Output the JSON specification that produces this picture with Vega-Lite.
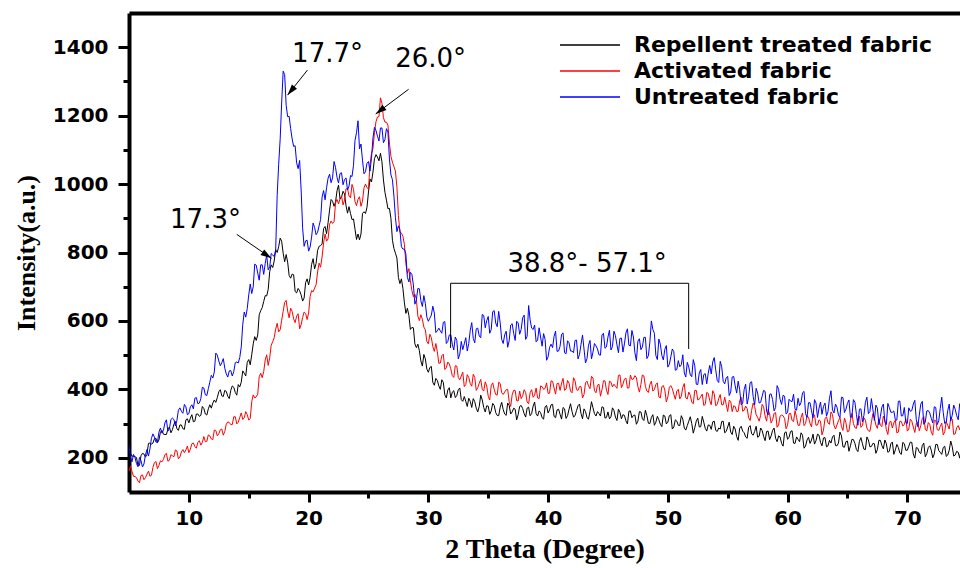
{
"$schema": "https://vega.github.io/schema/vega-lite/v6.json",
"width": 831, "height": 479,
"autosize": {"type": "none"},
"padding": {"left": 129, "top": 13, "right": 0, "bottom": 76},
"background": "white",
"config": {"view": {"stroke": null}, "font": "DejaVu Sans", "axis": {"labelColor": "black", "titleColor": "black", "grid": false}},
"datasets": {
"xrd": [
{"x":5,"R":234,"A":160,"U":235},{"x":5.25,"R":205,"A":160,"U":188},{"x":5.5,"R":203,"A":145,"U":201},{"x":5.75,"R":177,"A":132,"U":174},
{"x":6,"R":206,"A":148,"U":192},{"x":6.25,"R":211,"A":136,"U":182},{"x":6.5,"R":210,"A":152,"U":224},{"x":6.75,"R":243,"A":146,"U":226},
{"x":7,"R":243,"A":172,"U":270},{"x":7.25,"R":257,"A":189,"U":246},{"x":7.5,"R":252,"A":178,"U":275},{"x":7.75,"R":280,"A":188,"U":272},
{"x":8,"R":268,"A":209,"U":302},{"x":8.25,"R":284,"A":190,"U":278},{"x":8.5,"R":273,"A":209,"U":312},{"x":8.75,"R":298,"A":203,"U":312},
{"x":9,"R":285,"A":220,"U":309},{"x":9.25,"R":296,"A":202,"U":346},{"x":9.5,"R":285,"A":224,"U":330},{"x":9.75,"R":311,"A":223,"U":349},
{"x":10,"R":302,"A":215,"U":329},{"x":10.25,"R":326,"A":241,"U":355},{"x":10.5,"R":307,"A":233,"U":374},{"x":10.75,"R":328,"A":245,"U":358},
{"x":11,"R":324,"A":237,"U":373},{"x":11.25,"R":344,"A":262,"U":404},{"x":11.5,"R":325,"A":248,"U":382},{"x":11.75,"R":355,"A":264,"U":421},
{"x":12,"R":360,"A":253,"U":433},{"x":12.25,"R":362,"A":280,"U":506},{"x":12.5,"R":393,"A":270,"U":483},{"x":12.75,"R":381,"A":284,"U":478},
{"x":13,"R":397,"A":277,"U":462},{"x":13.25,"R":380,"A":305,"U":436},{"x":13.5,"R":397,"A":297,"U":455},{"x":13.75,"R":406,"A":320,"U":452},
{"x":14,"R":383,"A":299,"U":480},{"x":14.25,"R":407,"A":318,"U":493},{"x":14.5,"R":454,"A":312,"U":590},{"x":14.75,"R":439,"A":335,"U":611},
{"x":15,"R":487,"A":310,"U":676},{"x":15.25,"R":501,"A":364,"U":680},{"x":15.5,"R":554,"A":375,"U":766},{"x":15.75,"R":559,"A":386,"U":740},
{"x":16,"R":630,"A":447,"U":764},{"x":16.25,"R":657,"A":452,"U":736},{"x":16.5,"R":673,"A":501,"U":792},{"x":16.75,"R":744,"A":492,"U":758},
{"x":17,"R":756,"A":539,"U":793},{"x":17.25,"R":808,"A":576,"U":807},{"x":17.5,"R":817,"A":568,"U":1058},{"x":17.75,"R":833,"A":602,"U":1237},
{"x":18,"R":773,"A":654,"U":1320},{"x":18.25,"R":772,"A":629,"U":1197},{"x":18.5,"R":725,"A":637,"U":1162},{"x":18.75,"R":735,"A":606,"U":1110},
{"x":19,"R":682,"A":614,"U":1062},{"x":19.25,"R":688,"A":577,"U":1069},{"x":19.5,"R":658,"A":610,"U":872},{"x":19.75,"R":712,"A":622,"U":834},
{"x":20,"R":705,"A":623,"U":804},{"x":20.25,"R":765,"A":689,"U":845},{"x":20.5,"R":752,"A":696,"U":873},{"x":20.75,"R":806,"A":743,"U":859},
{"x":21,"R":820,"A":757,"U":896},{"x":21.25,"R":870,"A":828,"U":981},{"x":21.5,"R":855,"A":833,"U":989},{"x":21.75,"R":924,"A":882,"U":1029},
{"x":22,"R":950,"A":885,"U":1018},{"x":22.25,"R":948,"A":945,"U":1048},{"x":22.5,"R":997,"A":942,"U":1003},{"x":22.75,"R":962,"A":965,"U":1033},
{"x":23,"R":971,"A":953,"U":1013},{"x":23.25,"R":915,"A":987,"U":983},{"x":23.5,"R":914,"A":960,"U":1025},{"x":23.75,"R":898,"A":985,"U":1055},
{"x":24,"R":838,"A":937,"U":1150},{"x":24.25,"R":837,"A":963,"U":1103},{"x":24.5,"R":914,"A":950,"U":1070},{"x":24.75,"R":914,"A":1000,"U":1036},
{"x":25,"R":977,"A":985,"U":1066},{"x":25.25,"R":1006,"A":1089,"U":1075},{"x":25.5,"R":1074,"A":1150,"U":1166},{"x":25.75,"R":1079,"A":1196,"U":1140},
{"x":26,"R":1090,"A":1252,"U":1164},{"x":26.25,"R":1012,"A":1194,"U":1121},{"x":26.5,"R":953,"A":1181,"U":1162},{"x":26.75,"R":929,"A":1120,"U":1073},
{"x":27,"R":836,"A":1064,"U":1013},{"x":27.25,"R":798,"A":1038,"U":902},{"x":27.5,"R":727,"A":908,"U":878},{"x":27.75,"R":723,"A":857,"U":817},
{"x":28,"R":653,"A":824,"U":810},{"x":28.25,"R":637,"A":739,"U":727},{"x":28.5,"R":575,"A":717,"U":742},{"x":28.75,"R":580,"A":671,"U":705},
{"x":29,"R":522,"A":664,"U":662},{"x":29.25,"R":513,"A":601,"U":694},{"x":29.5,"R":468,"A":605,"U":642},{"x":29.75,"R":489,"A":574,"U":651},
{"x":30,"R":450,"A":533,"U":599},{"x":30.25,"R":467,"A":551,"U":617},{"x":30.5,"R":412,"A":511,"U":623},{"x":30.75,"R":426,"A":510,"U":571},
{"x":31,"R":400,"A":477,"U":571},{"x":31.25,"R":420,"A":503,"U":596},{"x":31.5,"R":375,"A":463,"U":534},{"x":31.75,"R":405,"A":474,"U":559},
{"x":32,"R":392,"A":440,"U":532},{"x":32.25,"R":376,"A":469,"U":553},{"x":32.5,"R":399,"A":435,"U":489},{"x":32.75,"R":370,"A":439,"U":540},
{"x":33,"R":379,"A":408,"U":533},{"x":33.25,"R":350,"A":443,"U":512},{"x":33.5,"R":365,"A":417,"U":573},{"x":33.75,"R":373,"A":444,"U":549},
{"x":34,"R":345,"A":397,"U":577},{"x":34.25,"R":350,"A":418,"U":556},{"x":34.5,"R":369,"A":400,"U":619},{"x":34.75,"R":334,"A":422,"U":580},
{"x":35,"R":351,"A":380,"U":613},{"x":35.25,"R":337,"A":411,"U":575},{"x":35.5,"R":353,"A":400,"U":630},{"x":35.75,"R":324,"A":383,"U":583},
{"x":36,"R":348,"A":417,"U":594},{"x":36.25,"R":341,"A":385,"U":534},{"x":36.5,"R":324,"A":399,"U":570},{"x":36.75,"R":353,"A":364,"U":542},
{"x":37,"R":334,"A":384,"U":592},{"x":37.25,"R":342,"A":397,"U":543},{"x":37.5,"R":326,"A":366,"U":594},{"x":37.75,"R":353,"A":373,"U":575},
{"x":38,"R":329,"A":399,"U":617},{"x":38.25,"R":345,"A":363,"U":555},{"x":38.5,"R":323,"A":390,"U":603},{"x":38.75,"R":351,"A":377,"U":575},
{"x":39,"R":329,"A":404,"U":539},{"x":39.25,"R":337,"A":373,"U":580},{"x":39.5,"R":317,"A":408,"U":526},{"x":39.75,"R":349,"A":403,"U":546},
{"x":40,"R":331,"A":388,"U":495},{"x":40.25,"R":355,"A":425,"U":532},{"x":40.5,"R":321,"A":404,"U":555},{"x":40.75,"R":340,"A":417,"U":511},
{"x":41,"R":327,"A":397,"U":526},{"x":41.25,"R":347,"A":432,"U":565},{"x":41.5,"R":315,"A":401,"U":504},{"x":41.75,"R":342,"A":418,"U":536},
{"x":42,"R":335,"A":390,"U":512},{"x":42.25,"R":323,"A":425,"U":543},{"x":42.5,"R":352,"A":397,"U":489},{"x":42.75,"R":329,"A":408,"U":532},
{"x":43,"R":343,"A":385,"U":518},{"x":43.25,"R":317,"A":424,"U":490},{"x":43.5,"R":336,"A":402,"U":543},{"x":43.75,"R":346,"A":433,"U":509},
{"x":44,"R":322,"A":390,"U":527},{"x":44.25,"R":329,"A":415,"U":501},{"x":44.5,"R":349,"A":399,"U":559},{"x":44.75,"R":316,"A":425,"U":520},
{"x":45,"R":334,"A":385,"U":553},{"x":45.25,"R":320,"A":421,"U":515},{"x":45.5,"R":338,"A":415,"U":570},{"x":45.75,"R":309,"A":403,"U":530},
{"x":46,"R":333,"A":442,"U":549},{"x":46.25,"R":326,"A":415,"U":509},{"x":46.5,"R":308,"A":433,"U":565},{"x":46.75,"R":336,"A":404,"U":529},
{"x":47,"R":317,"A":429,"U":572},{"x":47.25,"R":325,"A":440,"U":507},{"x":47.5,"R":307,"A":408,"U":541},{"x":47.75,"R":334,"A":414,"U":516},
{"x":48,"R":309,"A":439,"U":552},{"x":48.25,"R":323,"A":395,"U":490},{"x":48.5,"R":300,"A":414,"U":538},{"x":48.75,"R":326,"A":395,"U":575},
{"x":49,"R":304,"A":414,"U":499},{"x":49.25,"R":311,"A":378,"U":547},{"x":49.5,"R":291,"A":408,"U":499},{"x":49.75,"R":322,"A":398,"U":517},
{"x":50,"R":304,"A":378,"U":465},{"x":50.25,"R":326,"A":411,"U":495},{"x":50.5,"R":290,"A":386,"U":510},{"x":50.75,"R":307,"A":395,"U":458},
{"x":51,"R":294,"A":372,"U":466},{"x":51.25,"R":313,"A":406,"U":501},{"x":51.5,"R":281,"A":375,"U":436},{"x":51.75,"R":307,"A":392,"U":465},
{"x":52,"R":300,"A":363,"U":437},{"x":52.25,"R":288,"A":397,"U":469},{"x":52.5,"R":316,"A":369,"U":414},{"x":52.75,"R":291,"A":379,"U":458},
{"x":53,"R":304,"A":353,"U":443},{"x":53.25,"R":278,"A":391,"U":416},{"x":53.5,"R":295,"A":367,"U":470},{"x":53.75,"R":305,"A":396,"U":480},
{"x":54,"R":280,"A":352,"U":457},{"x":54.25,"R":287,"A":373,"U":420},{"x":54.5,"R":306,"A":355,"U":466},{"x":54.75,"R":273,"A":377,"U":416},
{"x":55,"R":290,"A":335,"U":438},{"x":55.25,"R":275,"A":365,"U":392},{"x":55.5,"R":292,"A":352,"U":438},{"x":55.75,"R":262,"A":335,"U":389},
{"x":56,"R":286,"A":367,"U":399},{"x":56.25,"R":278,"A":336,"U":359},{"x":56.5,"R":261,"A":351,"U":415},{"x":56.75,"R":289,"A":317,"U":379},
{"x":57,"R":270,"A":339,"U":422},{"x":57.25,"R":277,"A":350,"U":355},{"x":57.5,"R":260,"A":318,"U":389},{"x":57.75,"R":287,"A":324,"U":362},
{"x":58,"R":262,"A":349,"U":397},{"x":58.25,"R":277,"A":307,"U":336},{"x":58.5,"R":253,"A":328,"U":385},{"x":58.75,"R":280,"A":311,"U":370},
{"x":59,"R":257,"A":332,"U":347},{"x":59.25,"R":264,"A":296,"U":400},{"x":59.5,"R":242,"A":325,"U":356},{"x":59.75,"R":273,"A":315,"U":380},
{"x":60,"R":254,"A":295,"U":332},{"x":60.25,"R":277,"A":330,"U":366},{"x":60.5,"R":243,"A":306,"U":386},{"x":60.75,"R":261,"A":318,"U":339},
{"x":61,"R":247,"A":295,"U":352},{"x":61.25,"R":266,"A":331,"U":390},{"x":61.5,"R":234,"A":300,"U":329},{"x":61.75,"R":260,"A":318,"U":361},
{"x":62,"R":252,"A":290,"U":337},{"x":62.25,"R":240,"A":325,"U":370},{"x":62.5,"R":269,"A":296,"U":318},{"x":62.75,"R":245,"A":307,"U":363},
{"x":63,"R":258,"A":281,"U":350},{"x":63.25,"R":232,"A":320,"U":322},{"x":63.5,"R":251,"A":298,"U":374},{"x":63.75,"R":261,"A":327,"U":340},
{"x":64,"R":236,"A":284,"U":357},{"x":64.25,"R":243,"A":308,"U":325},{"x":64.5,"R":264,"A":291,"U":377},{"x":64.75,"R":231,"A":316,"U":332},
{"x":65,"R":249,"A":276,"U":359},{"x":65.25,"R":235,"A":310,"U":318},{"x":65.5,"R":253,"A":300,"U":370},{"x":65.75,"R":224,"A":286,"U":327},
{"x":66,"R":248,"A":322,"U":342},{"x":66.25,"R":241,"A":294,"U":305},{"x":66.5,"R":224,"A":310,"U":362},{"x":66.75,"R":252,"A":279,"U":329},
{"x":67,"R":233,"A":303,"U":373},{"x":67.25,"R":241,"A":317,"U":309},{"x":67.5,"R":224,"A":286,"U":345},{"x":67.75,"R":251,"A":295,"U":320},
{"x":68,"R":226,"A":322,"U":357},{"x":68.25,"R":241,"A":282,"U":297},{"x":68.5,"R":219,"A":304,"U":347},{"x":68.75,"R":246,"A":287,"U":333},
{"x":69,"R":223,"A":310,"U":311},{"x":69.25,"R":230,"A":275,"U":365},{"x":69.5,"R":210,"A":306,"U":322},{"x":69.75,"R":241,"A":297,"U":347},
{"x":70,"R":222,"A":278,"U":300},{"x":70.25,"R":246,"A":313,"U":336},{"x":70.5,"R":211,"A":290,"U":357},{"x":70.75,"R":230,"A":301,"U":311},
{"x":71,"R":216,"A":279,"U":325},{"x":71.25,"R":236,"A":315,"U":365},{"x":71.5,"R":203,"A":284,"U":304},{"x":71.75,"R":230,"A":303,"U":338},
{"x":72,"R":222,"A":275,"U":315},{"x":72.25,"R":211,"A":310,"U":349},{"x":72.5,"R":239,"A":282,"U":297},{"x":72.75,"R":216,"A":292,"U":344},
{"x":73,"R":230,"A":267,"U":332},{"x":73.25,"R":204,"A":306,"U":304},{"x":73.5,"R":222,"A":284,"U":357},{"x":73.75,"R":233,"A":313,"U":324},
{"x":74,"R":208,"A":270,"U":342},{"x":74.25,"R":216,"A":294,"U":311},{"x":74.5,"R":228,"A":300,"U":345},
{"x":5.125,"R":213,"A":176,"U":201},{"x":5.375,"R":204,"A":146,"U":210},{"x":5.625,"R":201,"A":142,"U":183},{"x":5.875,"R":178,"A":127,"U":201},
{"x":6.125,"R":213,"A":150,"U":173},{"x":6.375,"R":202,"A":142,"U":209},{"x":6.625,"R":242,"A":161,"U":205},{"x":6.875,"R":240,"A":149,"U":257},
{"x":7.125,"R":256,"A":186,"U":260},{"x":7.375,"R":244,"A":168,"U":245},{"x":7.625,"R":275,"A":191,"U":287},{"x":7.875,"R":269,"A":195,"U":280},
{"x":8.125,"R":268,"A":213,"U":311},{"x":8.375,"R":290,"A":193,"U":285},{"x":8.625,"R":282,"A":206,"U":316},{"x":8.875,"R":306,"A":223,"U":293},
{"x":9.125,"R":280,"A":197,"U":339},{"x":9.375,"R":296,"A":217,"U":336},{"x":9.625,"R":283,"A":215,"U":356},{"x":9.875,"R":314,"A":234,"U":326},
{"x":10.125,"R":316,"A":225,"U":349},{"x":10.375,"R":305,"A":243,"U":343},{"x":10.625,"R":328,"A":228,"U":376},{"x":10.875,"R":321,"A":250,"U":360},
{"x":11.125,"R":350,"A":245,"U":406},{"x":11.375,"R":328,"A":247,"U":384},{"x":11.625,"R":343,"A":267,"U":402},{"x":11.875,"R":345,"A":255,"U":441},
{"x":12.125,"R":369,"A":281,"U":451},{"x":12.375,"R":376,"A":264,"U":500},{"x":12.625,"R":399,"A":282,"U":469},{"x":12.875,"R":379,"A":266,"U":490},
{"x":13.125,"R":394,"A":298,"U":445},{"x":13.375,"R":373,"A":303,"U":454},{"x":13.625,"R":410,"A":297,"U":439},{"x":13.875,"R":391,"A":320,"U":478},
{"x":14.125,"R":414,"A":304,"U":477},{"x":14.375,"R":421,"A":331,"U":524},{"x":14.625,"R":447,"A":317,"U":626},{"x":14.875,"R":479,"A":326,"U":636},
{"x":15.125,"R":472,"A":315,"U":708},{"x":15.375,"R":533,"A":384,"U":700},{"x":15.625,"R":543,"A":378,"U":763},{"x":15.875,"R":618,"A":437,"U":719},
{"x":16.125,"R":639,"A":434,"U":764},{"x":16.375,"R":674,"A":486,"U":768},{"x":16.625,"R":692,"A":470,"U":749},{"x":16.875,"R":764,"A":529,"U":797},
{"x":17.125,"R":775,"A":551,"U":788},{"x":17.375,"R":800,"A":593,"U":967},{"x":17.625,"R":842,"A":574,"U":1132},{"x":17.875,"R":798,"A":628,"U":1330},
{"x":18.125,"R":794,"A":660,"U":1230},{"x":18.375,"R":733,"A":609,"U":1198},{"x":18.625,"R":737,"A":628,"U":1132},{"x":18.875,"R":686,"A":595,"U":1112},
{"x":19.125,"R":695,"A":621,"U":1045},{"x":19.375,"R":676,"A":589,"U":983},{"x":19.625,"R":667,"A":626,"U":818},{"x":19.875,"R":723,"A":604,"U":836},
{"x":20.125,"R":727,"A":671,"U":816},{"x":20.375,"R":782,"A":685,"U":886},{"x":20.625,"R":768,"A":706,"U":852},{"x":20.875,"R":818,"A":769,"U":878},
{"x":21.125,"R":825,"A":787,"U":962},{"x":21.375,"R":876,"A":854,"U":954},{"x":21.625,"R":887,"A":840,"U":1017},{"x":21.875,"R":955,"A":892,"U":1004},
{"x":22.125,"R":935,"A":890,"U":1066},{"x":22.375,"R":981,"A":955,"U":1019},{"x":22.625,"R":956,"A":957,"U":1031},{"x":22.875,"R":979,"A":939,"U":998},
{"x":23.125,"R":937,"A":986,"U":1018},{"x":23.375,"R":934,"A":965,"U":994},{"x":23.625,"R":896,"A":999,"U":1022},{"x":23.875,"R":868,"A":949,"U":1128},
{"x":24.125,"R":854,"A":955,"U":1185},{"x":24.375,"R":854,"A":935,"U":1117},{"x":24.625,"R":919,"A":989,"U":1030},{"x":24.875,"R":932,"A":990,"U":1061},
{"x":25.125,"R":1015,"A":1057,"U":1038},{"x":25.375,"R":1035,"A":1104,"U":1135},{"x":25.625,"R":1086,"A":1182,"U":1157},{"x":25.875,"R":1068,"A":1197,"U":1126},
{"x":26.125,"R":1065,"A":1236,"U":1164},{"x":26.375,"R":976,"A":1181,"U":1130},{"x":26.625,"R":928,"A":1172,"U":1152},{"x":26.875,"R":900,"A":1081,"U":1027},
{"x":27.125,"R":812,"A":1051,"U":965},{"x":27.375,"R":784,"A":991,"U":861},{"x":27.625,"R":709,"A":859,"U":866},{"x":27.875,"R":695,"A":847,"U":810},
{"x":28.125,"R":622,"A":767,"U":795},{"x":28.375,"R":616,"A":753,"U":714},{"x":28.625,"R":581,"A":689,"U":736},{"x":28.875,"R":533,"A":678,"U":649},
{"x":29.125,"R":532,"A":614,"U":695},{"x":29.375,"R":483,"A":618,"U":659},{"x":29.625,"R":502,"A":582,"U":674},{"x":29.875,"R":459,"A":540,"U":611},
{"x":30.125,"R":464,"A":561,"U":608},{"x":30.375,"R":420,"A":525,"U":643},{"x":30.625,"R":432,"A":534,"U":566},{"x":30.875,"R":410,"A":476,"U":579},
{"x":31.125,"R":428,"A":498,"U":564},{"x":31.375,"R":384,"A":458,"U":598},{"x":31.625,"R":398,"A":480,"U":540},{"x":31.875,"R":375,"A":460,"U":559},
{"x":32.125,"R":396,"A":435,"U":515},{"x":32.375,"R":382,"A":468,"U":543},{"x":32.625,"R":404,"A":428,"U":503},{"x":32.875,"R":365,"A":450,"U":516},
{"x":33.125,"R":365,"A":414,"U":551},{"x":33.375,"R":374,"A":435,"U":534},{"x":33.625,"R":347,"A":409,"U":595},{"x":33.875,"R":364,"A":435,"U":536},
{"x":34.125,"R":334,"A":405,"U":579},{"x":34.375,"R":383,"A":429,"U":551},{"x":34.625,"R":347,"A":395,"U":616},{"x":34.875,"R":352,"A":410,"U":601},
{"x":35.125,"R":327,"A":369,"U":564},{"x":35.375,"R":359,"A":419,"U":627},{"x":35.625,"R":332,"A":385,"U":594},{"x":35.875,"R":323,"A":421,"U":628},
{"x":36.125,"R":362,"A":390,"U":546},{"x":36.375,"R":328,"A":392,"U":559},{"x":36.625,"R":360,"A":400,"U":523},{"x":36.875,"R":328,"A":350,"U":588},
{"x":37.125,"R":345,"A":397,"U":564},{"x":37.375,"R":311,"A":367,"U":599},{"x":37.625,"R":350,"A":395,"U":561},{"x":37.875,"R":344,"A":381,"U":609},
{"x":38.125,"R":319,"A":391,"U":546},{"x":38.375,"R":348,"A":358,"U":645},{"x":38.625,"R":329,"A":399,"U":579},{"x":38.875,"R":363,"A":383,"U":588},
{"x":39.125,"R":322,"A":375,"U":544},{"x":39.375,"R":332,"A":410,"U":553},{"x":39.625,"R":313,"A":400,"U":563},{"x":39.875,"R":353,"A":419,"U":485},
{"x":40.125,"R":340,"A":389,"U":523},{"x":40.375,"R":356,"A":423,"U":522},{"x":40.625,"R":317,"A":386,"U":570},{"x":40.875,"R":342,"A":418,"U":512},
{"x":41.125,"R":313,"A":418,"U":561},{"x":41.375,"R":343,"A":397,"U":507},{"x":41.625,"R":323,"A":426,"U":542},{"x":41.875,"R":358,"A":395,"U":512},
{"x":42.125,"R":319,"A":434,"U":507},{"x":42.375,"R":338,"A":399,"U":544},{"x":42.625,"R":357,"A":408,"U":502},{"x":42.875,"R":314,"A":375,"U":559},
{"x":43.125,"R":335,"A":419,"U":477},{"x":43.375,"R":313,"A":410,"U":529},{"x":43.625,"R":364,"A":438,"U":489},{"x":43.875,"R":329,"A":396,"U":534},
{"x":44.125,"R":335,"A":412,"U":518},{"x":44.375,"R":322,"A":380,"U":500},{"x":44.625,"R":347,"A":425,"U":564},{"x":44.875,"R":318,"A":398,"U":524},
{"x":45.125,"R":314,"A":424,"U":573},{"x":45.375,"R":346,"A":407,"U":525},{"x":45.625,"R":319,"A":409,"U":557},{"x":45.875,"R":342,"A":441,"U":507},
{"x":46.125,"R":314,"A":405,"U":550},{"x":46.375,"R":324,"A":430,"U":533},{"x":46.625,"R":299,"A":404,"U":577},{"x":46.875,"R":337,"A":442,"U":527},
{"x":47.125,"R":324,"A":430,"U":553},{"x":47.375,"R":298,"A":434,"U":484},{"x":47.625,"R":335,"A":392,"U":548},{"x":47.875,"R":314,"A":442,"U":524},
{"x":48.125,"R":339,"A":409,"U":552},{"x":48.375,"R":301,"A":391,"U":498},{"x":48.625,"R":318,"A":424,"U":600},{"x":48.875,"R":295,"A":399,"U":564},
{"x":49.125,"R":321,"A":419,"U":487},{"x":49.375,"R":298,"A":375,"U":532},{"x":49.625,"R":325,"A":411,"U":486},{"x":49.875,"R":299,"A":363,"U":528},
{"x":50.125,"R":323,"A":406,"U":473},{"x":50.375,"R":284,"A":402,"U":518},{"x":50.625,"R":311,"A":371,"U":456},{"x":50.875,"R":295,"A":400,"U":484},
{"x":51.125,"R":323,"A":380,"U":472},{"x":51.375,"R":287,"A":417,"U":448},{"x":51.625,"R":294,"A":372,"U":479},{"x":51.875,"R":320,"A":383,"U":442},
{"x":52.125,"R":272,"A":358,"U":487},{"x":52.375,"R":307,"A":397,"U":415},{"x":52.625,"R":290,"A":371,"U":448},{"x":52.875,"R":321,"A":386,"U":414},
{"x":53.125,"R":286,"A":356,"U":446},{"x":53.375,"R":296,"A":388,"U":447},{"x":53.625,"R":283,"A":355,"U":445},{"x":53.875,"R":307,"A":387,"U":493},
{"x":54.125,"R":277,"A":356,"U":426},{"x":54.375,"R":284,"A":385,"U":482},{"x":54.625,"R":307,"A":355,"U":423},{"x":54.875,"R":277,"A":356,"U":434},
{"x":55.125,"R":304,"A":368,"U":382},{"x":55.375,"R":268,"A":335,"U":436},{"x":55.625,"R":284,"A":350,"U":410},{"x":55.875,"R":251,"A":336,"U":424},
{"x":56.125,"R":292,"A":377,"U":355},{"x":56.375,"R":273,"A":339,"U":400},{"x":56.625,"R":257,"A":344,"U":357},{"x":56.875,"R":294,"A":309,"U":420},
{"x":57.125,"R":266,"A":360,"U":379},{"x":57.375,"R":292,"A":326,"U":403},{"x":57.625,"R":263,"A":307,"U":360},{"x":57.875,"R":280,"A":356,"U":380},
{"x":58.125,"R":250,"A":322,"U":394},{"x":58.375,"R":278,"A":341,"U":325},{"x":58.625,"R":264,"A":302,"U":387},{"x":58.875,"R":287,"A":330,"U":337},
{"x":59.125,"R":247,"A":289,"U":411},{"x":59.375,"R":261,"A":322,"U":371},{"x":59.625,"R":234,"A":323,"U":383},{"x":59.875,"R":276,"A":285,"U":328},
{"x":60.125,"R":260,"A":329,"U":371},{"x":60.375,"R":279,"A":309,"U":364},{"x":60.625,"R":242,"A":338,"U":342},{"x":60.875,"R":254,"A":295,"U":374},
{"x":61.125,"R":273,"A":318,"U":362},{"x":61.375,"R":228,"A":294,"U":394},{"x":61.625,"R":252,"A":323,"U":318},{"x":61.875,"R":242,"A":301,"U":361},
{"x":62.125,"R":269,"A":328,"U":317},{"x":62.375,"R":250,"A":295,"U":360},{"x":62.625,"R":266,"A":311,"U":345},{"x":62.875,"R":235,"A":267,"U":327},
{"x":63.125,"R":259,"A":314,"U":360},{"x":63.375,"R":235,"A":302,"U":335},{"x":63.625,"R":243,"A":334,"U":396},{"x":63.875,"R":266,"A":295,"U":331},
{"x":64.125,"R":235,"A":296,"U":348},{"x":64.375,"R":275,"A":318,"U":318},{"x":64.625,"R":232,"A":280,"U":376},{"x":64.875,"R":247,"A":302,"U":342},
{"x":65.125,"R":219,"A":278,"U":369},{"x":65.375,"R":254,"A":330,"U":320},{"x":65.625,"R":242,"A":288,"U":362},{"x":65.875,"R":218,"A":314,"U":295},
{"x":66.125,"R":259,"A":289,"U":343},{"x":66.375,"R":225,"A":317,"U":324},{"x":66.625,"R":261,"A":287,"U":377},{"x":66.875,"R":232,"A":277,"U":335},
{"x":67.125,"R":242,"A":329,"U":341},{"x":67.375,"R":213,"A":296,"U":354},{"x":67.625,"R":251,"A":314,"U":297},{"x":67.875,"R":236,"A":291,"U":348},
{"x":68.125,"R":252,"A":310,"U":305},{"x":68.375,"R":216,"A":268,"U":359},{"x":68.625,"R":241,"A":307,"U":333},{"x":68.875,"R":210,"A":302,"U":337},
{"x":69.125,"R":239,"A":273,"U":310},{"x":69.375,"R":214,"A":307,"U":366},{"x":69.625,"R":245,"A":293,"U":323},{"x":69.875,"R":222,"A":314,"U":303},
{"x":70.125,"R":234,"A":284,"U":346},{"x":70.375,"R":245,"A":307,"U":338},{"x":70.625,"R":199,"A":274,"U":368},{"x":70.875,"R":228,"A":304,"U":291},
{"x":71.125,"R":212,"A":294,"U":357},{"x":71.375,"R":243,"A":320,"U":298},{"x":71.625,"R":212,"A":278,"U":337},{"x":71.875,"R":235,"A":298,"U":331},
{"x":72.125,"R":200,"A":266,"U":302},{"x":72.375,"R":239,"A":309,"U":347},{"x":72.625,"R":221,"A":280,"U":308},{"x":72.875,"R":210,"A":301,"U":377},
{"x":73.125,"R":234,"A":276,"U":300},{"x":73.375,"R":208,"A":295,"U":338},{"x":73.625,"R":249,"A":317,"U":308},{"x":73.875,"R":205,"A":268,"U":354},
{"x":74.125,"R":219,"A":288,"U":323},{"x":74.375,"R":199,"A":282,"U":358}
],
"notes": [
{"label":"17.7°","x":21.58,"y":1379},
{"label":"26.0°","x":30.19,"y":1365},
{"label":"17.3°","x":11.39,"y":894},
{"label":"38.8°- 57.1°","x":43.26,"y":766}
],
"arrows": [
{"id":"a","x":19.9,"y":1333,"x2":18.24,"y2":1260},
{"id":"b","x":28.35,"y":1277,"x2":25.6,"y2":1205},
{"id":"c","x":14.0,"y":853,"x2":16.9,"y2":783}
],
"bracket": [
{"x":31.86,"y":710,"x2":51.74,"y2":710},
{"x":31.86,"y":710,"x2":31.86,"y2":521},
{"x":51.74,"y":710,"x2":51.74,"y2":518}
]
},
"layer": [
{
"data": {"name": "xrd"},
"transform": [{"fold": ["R", "A", "U"], "as": ["s", "I"]}],
"mark": {"type": "line", "strokeWidth": 1, "clip": true},
"encoding": {
"x": {"field": "x", "type": "quantitative", "scale": {"domain": [5, 74.4], "nice": false, "zero": false},
"axis": {"orient": "bottom", "values": [10,20,30,40,50,60,70], "title": "2 Theta (Degree)", "titleFont": "Liberation Serif", "titleFontSize": 28, "titleFontWeight": "bold", "titlePadding": 7,
"labelFont": "DejaVu Sans", "labelFontSize": 20, "labelFontWeight": "bold", "labelPadding": 6, "labelFlush": false,
"domainColor": "black", "domainWidth": 4, "tickColor": "black", "tickWidth": 3, "tickSize": 10}},
"y": {"field": "I", "type": "quantitative", "scale": {"domain": [100, 1500], "nice": false, "zero": false},
"axis": {"orient": "left", "values": [200,400,600,800,1000,1200,1400], "format": "d", "title": "Intensity(a.u.)", "titleFont": "Liberation Serif", "titleFontSize": 26, "titleFontWeight": "bold", "titlePadding": 13,
"labelFont": "DejaVu Sans", "labelFontSize": 20, "labelFontWeight": "bold", "labelPadding": 10, "labelFlush": false,
"domainColor": "black", "domainWidth": 4, "tickColor": "black", "tickWidth": 3, "tickSize": 11}},
"color": {"field": "s", "type": "nominal", "scale": {"domain": ["R", "A", "U"], "range": ["#000000", "#ff0000", "#0000ff"]},
"legend": {"orient": "none", "legendX": 450, "legendY": 21, "title": null, "symbolType": "M-3,0H3", "symbolSize": 400, "symbolStrokeWidth": 1.5, "labelOffset": 33,
"labelFont": "DejaVu Sans", "labelFontSize": 22, "labelFontWeight": "bold", "labelColor": "black", "rowPadding": 4, "padding": 0, "labelLimit": 400,
"labelExpr": "datum.value == 'R' ? 'Repellent treated fabric' : datum.value == 'A' ? 'Activated fabric' : 'Untreated fabric'"}}
}
},
{
"data": {"name": "bracket"},
"mark": {"type": "rule", "color": "black", "strokeWidth": 1},
"encoding": {
"x": {"field": "x", "type": "quantitative", "axis": {"orient": "bottom", "values": [15,25,35,45,55,65], "labels": false, "domain": false, "title": null, "tickColor": "black", "tickWidth": 3, "tickSize": 6}},
"x2": {"field": "x2"},
"y": {"field": "y", "type": "quantitative", "axis": {"orient": "left", "values": [300,500,700,900,1100,1300], "labels": false, "domain": false, "title": null, "tickColor": "black", "tickWidth": 3, "tickSize": 6}},
"y2": {"field": "y2"}
}
},
{
"data": {"name": "arrows"},
"mark": {"type": "rule", "color": "black", "strokeWidth": 1},
"encoding": {
"x": {"field": "x", "type": "quantitative", "axis": null},
"x2": {"field": "x2"},
"y": {"field": "y", "type": "quantitative", "axis": null},
"y2": {"field": "y2"}
}
},
{
"data": {"name": "arrows"},
"transform": [{"filter": "datum.id == 'a'"}],
"mark": {"type": "point", "shape": "M0,0L0.6,2L-0.6,2Z", "size": 121, "filled": true, "color": "black", "opacity": 1, "angle": 219},
"encoding": {"x": {"field": "x2", "type": "quantitative", "axis": null}, "y": {"field": "y2", "type": "quantitative", "axis": null}}
},
{
"data": {"name": "arrows"},
"transform": [{"filter": "datum.id == 'b'"}],
"mark": {"type": "point", "shape": "M0,0L0.6,2L-0.6,2Z", "size": 121, "filled": true, "color": "black", "opacity": 1, "angle": 233},
"encoding": {"x": {"field": "x2", "type": "quantitative", "axis": null}, "y": {"field": "y2", "type": "quantitative", "axis": null}}
},
{
"data": {"name": "arrows"},
"transform": [{"filter": "datum.id == 'c'"}],
"mark": {"type": "point", "shape": "M0,0L0.6,2L-0.6,2Z", "size": 121, "filled": true, "color": "black", "opacity": 1, "angle": 124},
"encoding": {"x": {"field": "x2", "type": "quantitative", "axis": null}, "y": {"field": "y2", "type": "quantitative", "axis": null}}
},
{
"data": {"name": "notes"},
"mark": {"type": "text", "font": "DejaVu Sans", "fontSize": 26, "align": "center", "baseline": "middle", "color": "black"},
"encoding": {
"x": {"field": "x", "type": "quantitative", "axis": {"orient": "top", "ticks": false, "labels": false, "domainColor": "black", "domainWidth": 4, "title": null}},
"y": {"field": "y", "type": "quantitative", "axis": null},
"text": {"field": "label"}
}
}
],
"resolve": {"axis": {"x": "independent", "y": "independent"}}
}
